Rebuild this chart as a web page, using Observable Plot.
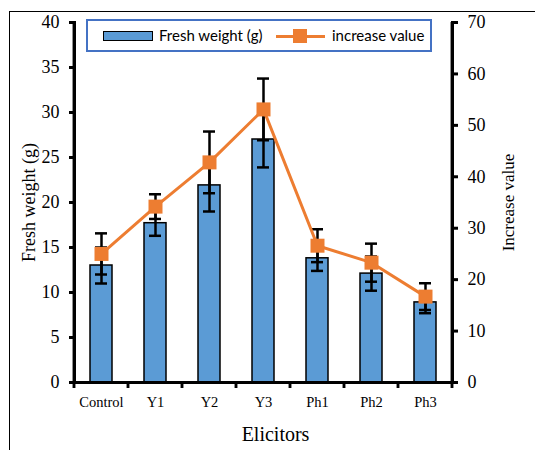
<!DOCTYPE html>
<html>
<head>
<meta charset="utf-8">
<script src="https://cdn.jsdelivr.net/npm/d3@7"></script>
<script src="https://cdn.jsdelivr.net/npm/@observablehq/plot@0.6"></script>
<style>
  body { margin: 0; background: #fff; }
  #wrap { position: relative; width: 535px; height: 450px; overflow: hidden; }
  #border { position: absolute; left: 9px; top: 11px; width: 600px; height: 600px; border: 1px solid #000; box-sizing: border-box; }
  #chart { position: absolute; left: 0; top: 0; }
  #legend { position: absolute; left: 86px; top: 19px; width: 346px; height: 33px; border: 2px solid #4472C4; box-sizing: border-box; background: #fff;
    font-family: Lato, "Open Sans", sans-serif; font-size: 15px; color: #000; }
  .sw-bar { position: absolute; left: 15px; top: 10px; width: 50px; height: 10px; background: #5B9BD5; border: 1.5px solid #000; box-sizing: border-box; }
  .sw-line { position: absolute; left: 188px; top: 13.5px; width: 49px; height: 3px; background: #ED7D31; }
  .sw-mark { position: absolute; left: 205px; top: 8px; width: 14px; height: 14px; background: #ED7D31; }
  .lt { position: absolute; top: 5px; white-space: nowrap; }
</style>
</head>
<body>
<div id="wrap">
  <div id="border"></div>
  <div id="chart"></div>
  <div id="legend">
    <div class="sw-bar"></div><span class="lt" style="left:71px">Fresh weight (g)</span>
    <div class="sw-line"></div><div class="sw-mark"></div><span class="lt" style="left:244px">increase value</span>
  </div>
</div>
<script>
const categories = ["Control", "Y1", "Y2", "Y3", "Ph1", "Ph2", "Ph3"];
const freshWeight = [13.0, 17.7, 21.9, 27.0, 13.8, 12.1, 8.9];
const freshWeightErr = [2.0, 1.4, 2.9, 3.1, 1.4, 1.9, 1.2];
const increaseValue = [25.0, 34.2, 42.8, 53.1, 26.6, 23.3, 16.7];
const increaseErr = [4.0, 2.4, 6.0, 6.0, 3.2, 3.7, 2.6];
const leftTicks = [0, 5, 10, 15, 20, 25, 30, 35, 40];
const rightTicks = [0, 10, 20, 30, 40, 50, 60, 70];

const leftMax = 40, rightMax = 70;
const toLeft = v => v * leftMax / rightMax;

const W = 535, H = 450, ML = 74, MR = 83, MT = 22, MB = 68;
const padInner = 0.59, padOuter = 0.295;
const step = (W - ML - MR) / (categories.length - padInner + 2 * padOuter);
const bandW = step * (1 - padInner);
const unitsPerPx = leftMax / (H - MT - MB);
const axisW = 3;

const data = categories.map((c, i) => ({
  cat: c,
  fw: freshWeight[i], fwLo: freshWeight[i] - freshWeightErr[i], fwHi: freshWeight[i] + freshWeightErr[i],
  iv: toLeft(increaseValue[i]),
  ivLo: toLeft(increaseValue[i] - increaseErr[i]), ivHi: toLeft(increaseValue[i] + increaseErr[i])
}));

const serif = "Liberation Serif";

const chart = Plot.plot({
  width: W,
  height: H,
  marginLeft: ML,
  marginRight: MR,
  marginTop: MT,
  marginBottom: MB,
  style: { fontFamily: serif, background: "transparent" },
  x: { domain: categories, paddingInner: padInner, paddingOuter: padOuter, label: null },
  y: { domain: [0, leftMax], label: null },
  marks: [
    Plot.barY(data, { x: "cat", y: "fw", fill: "#5B9BD5", stroke: "black", strokeWidth: 1.5 }),
    // bar error bars
    Plot.ruleX(data, { x: "cat", y1: "fwLo", y2: "fwHi", stroke: "black", strokeWidth: 2.5 }),
    Plot.tickY(data, { x: "cat", y: "fwLo", stroke: "black", strokeWidth: 2.5, insetLeft: 5, insetRight: 5 }),
    Plot.tickY(data, { x: "cat", y: "fwHi", stroke: "black", strokeWidth: 2.5, insetLeft: 5, insetRight: 5 }),
    // line error bars
    Plot.ruleX(data, { x: "cat", y1: "ivLo", y2: "ivHi", stroke: "black", strokeWidth: 2.5 }),
    Plot.tickY(data, { x: "cat", y: "ivLo", stroke: "black", strokeWidth: 2.5, insetLeft: 5, insetRight: 5 }),
    Plot.tickY(data, { x: "cat", y: "ivHi", stroke: "black", strokeWidth: 2.5, insetLeft: 5, insetRight: 5 }),
    Plot.line(data, { x: "cat", y: "iv", stroke: "#ED7D31", strokeWidth: 3 }),
    Plot.dot(data, { x: "cat", y: "iv", symbol: "square", r: 7.9, fill: "#ED7D31", stroke: null }),
    // axes
    Plot.axisY({ ticks: leftTicks, tickSize: 5, tickPadding: 10, stroke: "black", strokeWidth: 3, fontSize: 18, fontFamily: serif, label: null }),
    Plot.axisY({ anchor: "right", ticks: rightTicks.map(toLeft), tickFormat: d => String(Math.round(d * rightMax / leftMax)),
      tickSize: 5, tickPadding: 10, stroke: "black", strokeWidth: 3, fontSize: 18, fontFamily: serif, label: null }),
    Plot.axisX({ tickSize: 0, tickPadding: 14, fontSize: 14.5, fontFamily: serif, label: null }),
    Plot.ruleY([0], { stroke: "black", strokeWidth: 3 }),
    Plot.frame({ anchor: "left", stroke: "black", strokeWidth: 3 }),
    Plot.frame({ anchor: "right", stroke: "black", strokeWidth: 3 }),
    // vertical axis lines as thin bars at the outer edges of the band scale
    Plot.barY([categories[0]], { x: d => d, y1: -6 * unitsPerPx, y2: leftMax, fill: "black",
      insetLeft: 0, insetRight: bandW - axisW, dx: -(padOuter * step) - axisW / 2 }),
    Plot.barY([categories[categories.length - 1]], { x: d => d, y1: -6 * unitsPerPx, y2: leftMax, fill: "black",
      insetLeft: bandW - axisW, insetRight: 0, dx: (padOuter * step) + axisW / 2 }),
    // tick marks between categories on the x axis
    Plot.barY(categories.slice(1), { x: d => d, y1: -6 * unitsPerPx, y2: 0, fill: "black",
      insetLeft: 0, insetRight: bandW - axisW, dx: -(padInner * step) / 2 - axisW / 2 }),
    // axis titles
    Plot.text(["Fresh weight (g)"], { frameAnchor: "left", textAnchor: "middle", rotate: -90, dx: -45, fontSize: 18, fontFamily: serif, text: d => d }),
    Plot.text(["Increase value"], { frameAnchor: "right", textAnchor: "middle", rotate: -90, dx: 56, fontSize: 17, fontFamily: serif, text: d => d }),
    Plot.text(["Elicitors"], { frameAnchor: "bottom", dy: 58, dx: 12, fontSize: 20, fontFamily: serif, text: d => d })
  ]
});
document.getElementById("chart").appendChild(chart);
</script>
</body>
</html>
